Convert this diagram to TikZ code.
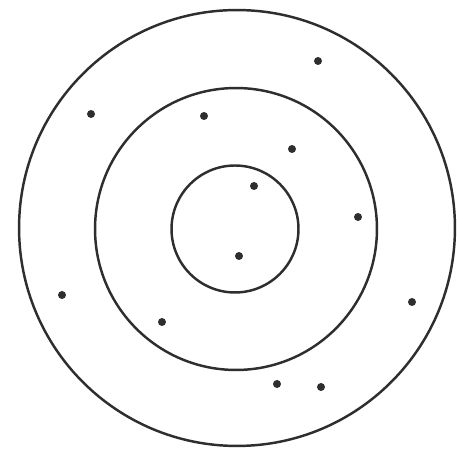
\documentclass[tikz,border=0pt]{standalone}
\usepackage{tikz}
\usepackage{xcolor}
\definecolor{ink}{HTML}{2E2E2E}
\begin{document}
\begin{tikzpicture}[x=0.02cm,y=-0.02cm]
      \tikzstyle{ring}=[circle,draw=ink,line width=1.4pt,inner sep=0pt];
      \tikzstyle{p}=[circle,fill=ink,minimum size=1.6mm,inner sep=0pt];
      \useasboundingbox (0,0) rectangle (457,455);
      \node[ring,minimum size=87.2mm] (outer)  at (237,228) {};
      \node[ring,minimum size=56.4mm] (middle) at (236,229) {};
      \node[ring,minimum size=25.4mm] (inner)  at (235,229) {};
      \node[p] (a) at (318,61)  {};
      \node[p] (b) at (91,114)  {};
      \node[p] (c) at (204,116) {};
      \node[p] (d) at (292,149) {};
      \node[p] (e) at (254,186) {};
      \node[p] (f) at (358,217) {};
      \node[p] (g) at (239,256) {};
      \node[p] (h) at (62,295)  {};
      \node[p] (i) at (162,322) {};
      \node[p] (j) at (412,302) {};
      \node[p] (k) at (277,384) {};
      \node[p] (l) at (321,387) {};
    \end{tikzpicture}
\end{document}
